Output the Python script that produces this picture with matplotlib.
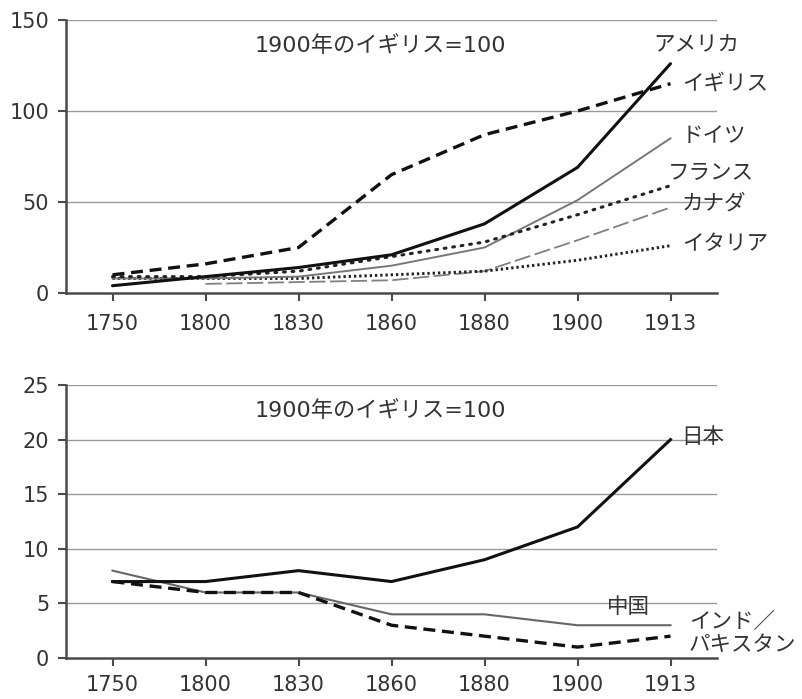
import numpy as np
import matplotlib
matplotlib.use("Agg")
import matplotlib.pyplot as plt

plt.rcParams['font.family'] = ['DejaVu Sans', 'Noto Sans CJK JP']

years = ["1750", "1800", "1830", "1860", "1880", "1900", "1913"]

# top panel (1900 UK = 100)
usa = [4, 9, 14, 21, 38, 69, 126]
uk = [10, 16, 25, 65, 87, 100, 115]
germany = [8, 8, 9, 15, 25, 51, 85]
france = [9, 9, 12, 20, 28, 43, 59]
canada = [np.nan, 5, 6, 7, 12, 29, 47]
italy = [8, 8, 8, 10, 12, 18, 26]

# bottom panel
japan = [7, 7, 8, 7, 9, 12, 20]
china = [8, 6, 6, 4, 4, 3, 3]
india = [7, 6, 6, 3, 2, 1, 2]

note = "1900年のイギリス=100"

W, H = 802, 699
fig = plt.figure(figsize=(W / 100, H / 100), dpi=100)
left = 66 / W
width = (717 - 66) / W
ax1 = fig.add_axes([left, 1 - 293 / H, width, 273 / H])
ax2 = fig.add_axes([left, 1 - 658 / H, width, 273 / H])

x = np.arange(len(years))
spine_c = '#4a4a4a'
grid_c = '#9a9a9a'
txt_c = '#333333'

def style(ax, ymax, step, xpad):
    ax.set_xlim(-0.5, 6.5)
    ax.set_ylim(0, ymax)
    ax.set_xticks(x)
    ax.set_xticklabels(years)
    ax.set_yticks(np.arange(0, ymax + 1, step))
    for s in ['top', 'right']:
        ax.spines[s].set_visible(False)
    for s in ['left', 'bottom']:
        ax.spines[s].set_color(spine_c)
        ax.spines[s].set_linewidth(1.8)
    ax.tick_params(axis='both', direction='out', length=6, width=1.5,
                   color=spine_c, labelsize=15, labelcolor=txt_c, pad=6)
    ax.tick_params(axis='x', pad=xpad)
    for v in np.arange(step, ymax + 1, step):
        ax.axhline(v, color=grid_c, lw=1.0, zorder=0)

style(ax1, 150, 50, 9)
style(ax2, 25, 5, 6)

# top lines
ax1.plot(x, usa, color='#111111', lw=2.2, solid_capstyle='round', zorder=5)
ax1.plot(x, uk, color='#111111', lw=2.4, dashes=(3.6, 2.0), zorder=5)
ax1.plot(x, germany, color='#777777', lw=1.4, zorder=4)
ax1.plot(x, france, color='#222222', lw=2.2, dashes=(0.6, 2.2),
         dash_capstyle='round', zorder=4)
ax1.plot(x, canada, color='#808080', lw=1.3, dashes=(9, 2.5), zorder=3)
ax1.plot(x, italy, color='#222222', lw=2.1, dashes=(0.8, 1.0), zorder=3)

lab_kw = dict(fontsize=15.5, color=txt_c, va='center', ha='left')
ax1.text(5.81, 136, "アメリカ", **lab_kw)
ax1.text(6.12, 115, "イギリス", **lab_kw)
ax1.text(6.12, 86, "ドイツ", **lab_kw)
ax1.text(5.97, 66, "フランス", **lab_kw)
ax1.text(6.12, 49, "カナダ", **lab_kw)
ax1.text(6.12, 27, "イタリア", **lab_kw)
ax1.text(2.88, 136, note, fontsize=16, color=txt_c, ha='center', va='center')

# bottom lines
ax2.plot(x, japan, color='#111111', lw=2.2, zorder=5)
ax2.plot(x, china, color='#666666', lw=1.5, zorder=4)
ax2.plot(x, india, color='#111111', lw=2.4, dashes=(3.6, 2.0), zorder=5)

ax2.text(6.12, 20.2, "日本", **lab_kw)
ax2.text(5.32, 4.7, "中国", **lab_kw)
ax2.text(6.2, 3.3, "インド／", **lab_kw)
ax2.text(6.2, 1.2, "パキスタン", **lab_kw)
ax2.text(2.88, 22.7, note, fontsize=16, color=txt_c, ha='center', va='center')

fig.savefig("out.png", dpi=100)
